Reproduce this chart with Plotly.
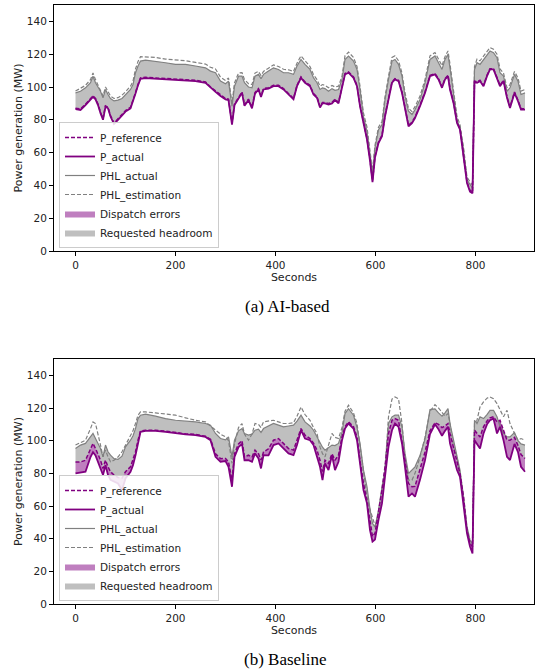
import plotly.graph_objects as go

# time samples (seconds)
seconds = [0, 10, 20, 30, 35, 40, 45, 50, 55, 60,
           65, 70, 77, 85, 93, 100, 110, 115, 120, 125,
           130, 140, 160, 180, 200, 220, 240, 260, 270, 280,
           290, 300, 306, 313, 318, 326, 333, 338, 346, 353,
           359, 366, 371, 376, 386, 396, 406, 416, 426, 436,
           443, 451, 459, 469, 476, 483, 489, 494, 499, 506,
           513, 519, 526, 533, 539, 546, 556, 563, 569, 576,
           583, 589, 594, 599, 606, 613, 619, 626, 633, 639,
           646, 653, 659, 666, 673, 679, 689, 699, 709, 719,
           726, 733, 739, 745, 749, 756, 763, 769, 776, 783,
           789, 794, 798, 803, 809, 816, 823, 829, 836, 843,
           849, 856, 863, 869, 878, 885, 891, 899]

# ---------------- (a) AI-based ----------------
ai_p_actual = [86.5, 86, 89, 92, 94, 92.5, 89, 84, 80, 88,
               87, 82, 77.5, 80, 83, 85, 87, 91, 96, 101,
               105, 105.4, 105, 105, 104.6, 104.2, 103.6, 102.6, 99.5, 97,
               94.5, 92.5, 92, 77, 89, 93.4, 96.4, 88.5, 92, 87,
               96, 98.5, 94, 98.5, 99, 100.5, 100.5, 98.5, 95.4, 92.5,
               100.5, 105.6, 102.6, 100.5, 95.4, 93.4, 87.5, 90, 90, 89.3,
               90, 92, 90, 100.5, 107.7, 108.7, 105.6, 100.5, 88.3, 78,
               68, 55, 42, 57, 65.8, 70, 82, 92.3, 102.6, 104.6,
               103.6, 96.4, 86.2, 76, 78, 81, 88.3, 96.4, 106.6, 107.7,
               104.6, 99.5, 104.6, 106.6, 98.5, 90.3, 78, 74, 57.7, 41.4,
               36.2, 35.2, 103, 102.6, 103.6, 100.5, 106.6, 110.7, 110.7, 105.6,
               100.5, 103.6, 93.4, 87.2, 96.4, 91.3, 86.2, 86.2]
ai_p_reference = [87, 86.6, 89.5, 92.6, 94.6, 93, 89.6, 84.6, 80.7, 88.5,
                  87.6, 82.6, 78, 80.6, 83.5, 85.6, 87.6, 91.6, 96.5, 101.5,
                  105.5, 105.9, 105.5, 105.5, 105.1, 104.7, 104.1, 103.1, 100, 97.6,
                  95, 93, 92.6, 77.8, 89.6, 94, 97, 89.1, 92.6, 87.6,
                  96.6, 99, 94.6, 99, 99.6, 101, 101, 99, 96, 93,
                  101, 106.1, 103.1, 101, 96, 94, 88.1, 90.6, 90.6, 89.9,
                  90.6, 92.6, 90.6, 101, 108.2, 109.2, 106.1, 101, 88.9, 78.6,
                  68.6, 55.7, 42.8, 57.6, 66.4, 70.6, 82.6, 92.9, 103.1, 105.1,
                  104.1, 97, 86.8, 76.6, 78.6, 81.6, 88.9, 97, 107.1, 108.2,
                  105.1, 100, 105.1, 107.1, 99.1, 90.9, 78.6, 74.6, 58.3, 42.1,
                  36.9, 35.9, 103.6, 103.1, 104.1, 101, 107.1, 111.2, 111.2, 106.1,
                  101, 104.1, 94, 87.8, 97, 91.9, 86.8, 86.8]
ai_phl_actual = [96.4, 97.4, 99.5, 102.6, 106.6, 102.6, 100, 97.4, 93.4, 98.5,
                 95.4, 93, 91.5, 92, 93, 95.4, 98.5, 101.5, 108.7, 112.8,
                 115.8, 116.4, 115.8, 114.8, 113.8, 113.8, 112.8, 111.7, 109.7, 108.7,
                 103.6, 102, 103.6, 88.3, 100.5, 106.6, 106.6, 102.6, 100, 99.5,
                 106.6, 107.7, 105, 107.7, 109.7, 111.7, 110.7, 108.7, 108.7, 107.7,
                 112.8, 116.8, 113.8, 110.7, 105.6, 102.6, 98.5, 99.5, 99, 97.4,
                 99, 98, 98.5, 104.6, 116.8, 118.9, 115.8, 110.7, 98.5, 82,
                 73, 60, 47.5, 63, 74, 77, 92.3, 104.6, 115.8, 116.8,
                 113.8, 106.6, 94.4, 85.2, 83.2, 86.2, 92.3, 102.6, 116.8, 118.9,
                 114.8, 110.7, 116.8, 119.9, 111.7, 96.4, 80.1, 75, 61.7, 43.4,
                 40.3, 38.3, 110.7, 114.8, 113.8, 116.8, 119.9, 121.9, 120.9, 117.9,
                 108.7, 106.6, 97.4, 99.5, 107.7, 103.6, 95.4, 96.4]
ai_phl_estimation = [97.5, 99, 101, 104.5, 108.5, 104.5, 101.5, 98.5, 94.5, 100,
                     97, 94.5, 93, 93.5, 95, 97, 100.5, 103.5, 111, 115.5,
                     118.5, 118.3, 118, 117, 116.5, 116, 115, 114, 112, 111,
                     106, 104, 105.5, 90, 102.5, 108.5, 108.8, 104.5, 102, 101.5,
                     108.5, 109.5, 107, 109.5, 111.5, 113.5, 112.5, 110.8, 110.5, 109.5,
                     114.5, 119, 116, 112.5, 107.5, 104.5, 100.5, 101.5, 101, 99.5,
                     101, 100, 100.5, 106.5, 119, 121.3, 118, 112.5, 100.5, 84,
                     75.5, 61.5, 49, 64.5, 75.5, 79, 94, 106.5, 118, 119,
                     116, 108.5, 96.5, 87, 85, 88, 94.5, 104.5, 119, 121,
                     117, 113, 118.5, 122, 114, 98.5, 82, 77, 63.5, 45,
                     42, 40, 112.5, 117, 116, 119, 122, 124, 123, 120,
                     111, 108.5, 99.5, 101.5, 109.5, 105.5, 97.5, 98.5]

# ---------------- (b) Baseline ----------------
bl_p_actual = [80, 80.4, 81, 90, 93, 91, 87, 82, 79, 85,
               79, 76, 75, 73.8, 69.8, 76.9, 81, 85, 91, 99.3,
               105.4, 106, 106, 105.4, 104.4, 103.8, 103.4, 102.3, 100.3, 90.1,
               87.1, 87.5, 84, 71.8, 90.1, 96, 98, 88, 88.1, 87.1,
               92.2, 89.1, 83, 91.1, 91, 97.3, 98.3, 95.2, 92.2, 91.1,
               97.3, 106.4, 101.3, 100.3, 97.3, 90.1, 84, 75.9, 86.1, 82,
               91.1, 82, 87.1, 100.3, 107.4, 110.5, 107.4, 100.3, 86.1, 69.8,
               61.6, 45.3, 38.2, 39.5, 51.5, 61.6, 77.9, 96.2, 106.4, 110.5,
               108.5, 98.3, 84, 65.7, 67.7, 65.7, 76, 88, 104, 110,
               107, 103, 106, 108.5, 98.3, 90.1, 82, 77.9, 61.6, 43.3,
               35.2, 31, 100.3, 98.3, 95.2, 104.4, 110, 112.5, 113.5, 104.4,
               108.5, 100.3, 90.1, 88.1, 98, 93, 84, 81]
bl_p_reference = [87, 87, 88, 94.2, 98.3, 95.2, 92, 88.1, 83, 88.1,
                  84, 81, 79, 77.5, 77, 81, 84, 88, 93.2, 100.3,
                  105.8, 106.4, 106.4, 105.8, 104.8, 104.2, 103.8, 102.7, 100.8, 92,
                  89, 89.1, 87, 75.9, 92, 98, 100, 90.1, 91.1, 90,
                  94.2, 92, 88.1, 93, 95, 100.3, 101.3, 98.3, 95.2, 94.2,
                  100.3, 107.4, 103.4, 101.3, 98.5, 94.2, 88, 81, 88, 86.1,
                  92, 88.1, 91.1, 102.3, 108.5, 111.5, 108.5, 102.3, 88, 73.8,
                  63, 49.4, 41.3, 43.3, 55.5, 69.8, 84, 104.4, 112.5, 113.5,
                  112.5, 100.3, 88.1, 73.8, 71.8, 72, 82, 93, 106, 111,
                  110, 108, 109, 110.5, 104.4, 95.2, 86.1, 79.9, 65.7, 45.3,
                  37.2, 35, 106.4, 104.4, 102.3, 108.5, 112, 114, 114.6, 111.5,
                  112.5, 106.4, 100.3, 100.3, 102, 97, 91.5, 89.1]
bl_phl_actual = [95.2, 97.3, 98.3, 102.3, 104.4, 101.3, 98.3, 95.2, 90.1, 97.3,
                 93.2, 91.1, 89, 88.5, 90.5, 96.2, 100.3, 103, 107.4, 113.5,
                 115.6, 116.2, 115, 113.5, 112.5, 112.1, 111.5, 110.5, 109.5, 104.4,
                 101.3, 100.5, 102.3, 90.1, 100.3, 106, 107.4, 104.4, 103.4, 104,
                 106.4, 107, 105, 107.4, 109, 110.5, 109.5, 108.5, 109, 109.5,
                 112, 115.6, 111.5, 109, 106.4, 102, 98.3, 96, 94.2, 96,
                 97.3, 97, 98.3, 105, 116.6, 119.6, 115.6, 108, 98.3, 82,
                 71.8, 58, 49.4, 47, 57.5, 71.8, 82, 110.5, 114.6, 115.6,
                 115.6, 108.5, 92.2, 79.9, 82, 84, 91, 101, 119, 119.5,
                 117, 115, 117, 119.6, 110.5, 100.3, 90.1, 82, 65.7, 47.4,
                 39.2, 37, 112.5, 110.5, 114.6, 113.5, 116, 118.6, 118.6, 114.6,
                 108.5, 104.4, 102.3, 102.3, 105, 100, 98, 97.3]
bl_phl_estimation = [97.3, 99, 100.3, 107.4, 111.5, 110.5, 104.4, 97.3, 90.1, 94.2,
                     90.1, 87.1, 88, 90, 93.2, 97.3, 102.3, 106, 110.5, 115.6,
                     117.6, 117.6, 117, 116.2, 115.6, 114, 112.5, 111.5, 109, 106.4,
                     104, 102.3, 100, 86.1, 98, 108, 110.5, 104, 100.3, 104,
                     110.5, 110, 108, 111.5, 112, 112.5, 111.5, 110.5, 110.5, 111,
                     115, 120.6, 116, 112.5, 108, 104.4, 96, 92, 90.1, 98,
                     104.4, 102, 101.3, 108, 118, 121.7, 117, 110.5, 96, 80,
                     65.7, 58, 53.5, 48, 55, 63.6, 82, 114.6, 125.5, 126.8,
                     125.7, 110.5, 90.1, 75.9, 75.9, 80, 90, 102, 118, 122,
                     120, 117, 115, 116.6, 110.5, 96.2, 90.1, 77.9, 63.6, 45.3,
                     37.2, 35.2, 110.5, 112.5, 120.6, 123.7, 126, 126.8, 125.7, 122.7,
                     118.6, 114.6, 118.6, 110.5, 104.4, 100.3, 101.3, 100.3]

x_ticks = [0, 200, 400, 600, 800]
y_ticks = [0, 20, 40, 60, 80, 100, 120, 140]
captions = ["(a) AI-based", "(b) Baseline"]

PURPLE = "#800080"
GRAY = "#808080"
FONT = "DejaVu Sans"

fig = go.Figure()


def add_panel(xa, ya, leg, pref, pact, phla, phle):
    common = dict(x=seconds, xaxis=xa, yaxis=ya, legend=leg, mode="lines")
    # requested headroom fill (P_reference -> PHL_actual)
    fig.add_trace(go.Scatter(y=pref, line=dict(width=0), showlegend=False,
                             hoverinfo="skip", **common))
    fig.add_trace(go.Scatter(y=phla, line=dict(width=0), fill="tonexty",
                             fillcolor="rgba(128,128,128,0.5)",
                             name="Requested headroom", legendrank=6, **common))
    # dispatch errors fill (P_actual -> P_reference)
    fig.add_trace(go.Scatter(y=pact, line=dict(width=0), showlegend=False,
                             hoverinfo="skip", **common))
    fig.add_trace(go.Scatter(y=pref, line=dict(width=0), fill="tonexty",
                             fillcolor="rgba(128,0,128,0.5)",
                             name="Dispatch errors", legendrank=5, **common))
    # lines
    fig.add_trace(go.Scatter(y=phle, line=dict(color=GRAY, width=1.2, dash="4px,2px"),
                             name="PHL_estimation", legendrank=4, **common))
    fig.add_trace(go.Scatter(y=phla, line=dict(color=GRAY, width=1.2),
                             name="PHL_actual", legendrank=3, **common))
    fig.add_trace(go.Scatter(y=pref, line=dict(color=PURPLE, width=1.5, dash="4px,2px"),
                             name="P_reference", legendrank=1, **common))
    fig.add_trace(go.Scatter(y=pact, line=dict(color=PURPLE, width=1.8),
                             name="P_actual", legendrank=2, **common))


add_panel("x", "y", "legend", ai_p_reference, ai_p_actual, ai_phl_actual, ai_phl_estimation)
add_panel("x2", "y2", "legend2", bl_p_reference, bl_p_actual, bl_phl_actual, bl_phl_estimation)

W, H = 543, 671
xdom = [54 / W, 534 / W]
axis_common = dict(showline=True, mirror=True, linecolor="black", linewidth=1,
                   ticks="outside", ticklen=4, tickcolor="black", showgrid=False,
                   zeroline=False, automargin=False,
                   tickfont=dict(family=FONT, size=10.5, color="#222"))

xaxis_style = dict(axis_common, range=[-43, 917], tickvals=x_ticks,
                   title=dict(text="Seconds", font=dict(family=FONT, size=11, color="#222"), standoff=0))
yaxis_style = dict(axis_common, range=[0, 150], tickvals=y_ticks,
                   title=dict(text="Power generation (MW)", font=dict(family=FONT, size=11, color="#222"),
                              standoff=2))

legend_style = dict(xanchor="left", yanchor="bottom", bgcolor="rgba(255,255,255,0.85)",
                    bordercolor="#cccccc", borderwidth=1, tracegroupgap=0, traceorder="normal",
                    font=dict(family=FONT, size=10.5, color="#222"), itemwidth=30)

fig.update_layout(
    width=W, height=H, margin=dict(l=0, r=0, t=0, b=0, autoexpand=False),
    paper_bgcolor="white", plot_bgcolor="white", showlegend=True,
    xaxis=dict(xaxis_style, domain=xdom, anchor="y"),
    yaxis=dict(yaxis_style, domain=[(H - 251) / H, (H - 5) / H], anchor="x"),
    xaxis2=dict(xaxis_style, domain=xdom, anchor="y2"),
    yaxis2=dict(yaxis_style, domain=[(H - 604) / H, (H - 359) / H], anchor="x2"),
    legend=dict(legend_style, x=59 / W, y=(H - 248) / H),
    legend2=dict(legend_style, x=59 / W, y=(H - 601) / H),
    annotations=[
        dict(text=captions[0], x=287 / W, y=(H - 306) / H, xref="paper", yref="paper",
             showarrow=False, xanchor="center", yanchor="middle",
             font=dict(family="Liberation Serif", size=17, color="black")),
        dict(text=captions[1], x=285 / W, y=(H - 659) / H, xref="paper", yref="paper",
             showarrow=False, xanchor="center", yanchor="middle",
             font=dict(family="Liberation Serif", size=17, color="black")),
    ],
)

fig.write_html("out.html", config={"displayModeBar": False},
               post_script="document.body.style.margin='0';")
